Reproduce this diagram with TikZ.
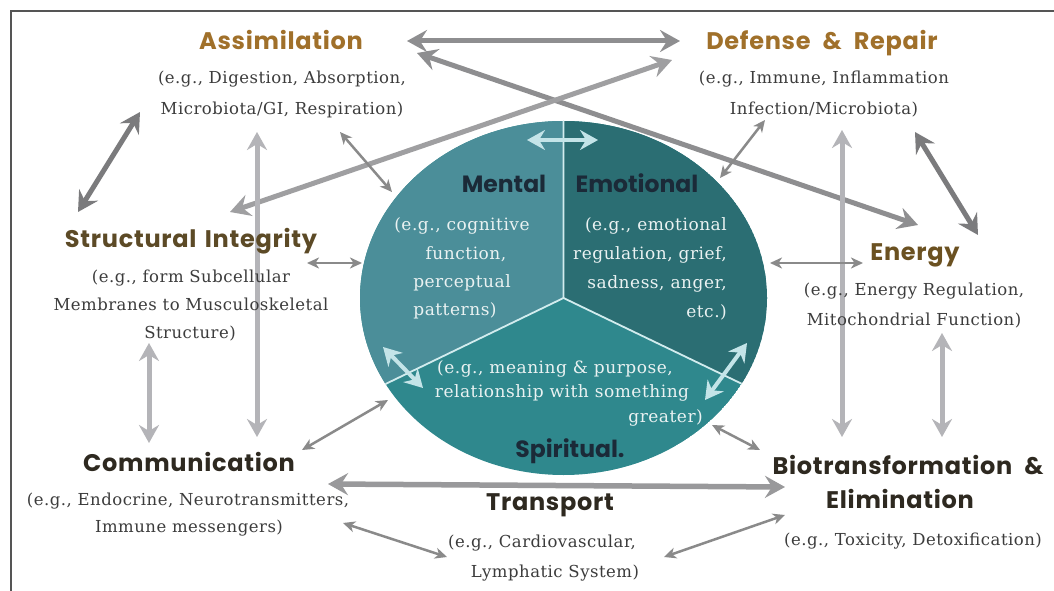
\documentclass[tikz,border=0pt]{standalone}
\usepackage{fontspec}
\usetikzlibrary{arrows.meta}
\newfontfamily\headfont{Poppins}[LetterSpace=3]
\newfontfamily\wheelfont{Poppins}
\newfontfamily\bodyfont{DejaVu Serif}[LetterSpace=3]
\definecolor{mentalc}{HTML}{4B8E99}
\definecolor{emotionc}{HTML}{2B6E73}
\definecolor{spiritc}{HTML}{2F888D}
\definecolor{dividerc}{HTML}{D2ECEE}
\definecolor{cyanarrow}{HTML}{C4E4E8}
\definecolor{goldhead}{HTML}{A0702A}
\definecolor{brownhead}{HTML}{5C4A26}
\definecolor{energyhead}{HTML}{6B5121}
\definecolor{darkhead}{HTML}{2E2920}
\definecolor{sectorhead}{HTML}{1B2A38}
\definecolor{bodytext}{HTML}{3C3C3C}
\definecolor{sectortext}{HTML}{EAF2F2}
\definecolor{midgray}{HTML}{8E8E90}
\definecolor{darkgray}{HTML}{7B7B7D}
\definecolor{lightgray}{HTML}{B4B4B8}
\definecolor{thingray}{HTML}{8A8A8A}
\definecolor{framec}{HTML}{555555}
\begin{document}
\begin{tikzpicture}[x=1pt,y=-1pt,
  head/.style={font=\headfont\bfseries\fontsize{24}{28}\selectfont, anchor=base, inner sep=0pt},
  sectorhd/.style={font=\wheelfont\bfseries\fontsize{23.5}{28}\selectfont, text=sectorhead, anchor=base, inner sep=0pt},
  sub/.style={font=\bodyfont\fontsize{16.5}{20}\selectfont, text=bodytext, anchor=base, inner sep=0pt},
  insub/.style={font=\bodyfont\fontsize{17}{20}\selectfont, text=sectortext, anchor=base, inner sep=0pt},
  bigtip/.tip={Stealth[length=20pt,width=22pt,inset=7pt]},
  midtip/.tip={Stealth[length=18pt,width=20pt,inset=6pt]},
  smalltip/.tip={Stealth[length=12pt,width=11pt,inset=3.5pt]},
  bigarrow/.style={line width=5pt, bigtip-bigtip},
  vertarrow/.style={line width=5pt, draw=lightgray, midtip-midtip},
  thinarrow/.style={line width=2.5pt, draw=thingray, smalltip-smalltip},
  innerarrow/.style={line width=4pt, draw=cyanarrow, midtip-midtip}]

\useasboundingbox (0,0) rectangle (1054,591);
\fill[white] (0,0) rectangle (1054,591);
% frame lines on the left and top
\draw[framec, line width=1.5pt] (11,591) -- (11,11) -- (1054,11);

% the wheel of mental, emotional and spiritual sectors
\coordinate (hub) at (563.5,298);
\begin{scope}
  \clip (hub) ellipse [x radius=203.5pt, y radius=177pt];
  \fill[spiritc] (hub) ellipse [x radius=203.5pt, y radius=177pt];
  \fill[mentalc] (hub) -- (563.5,100) -- (340,100) -- (340,406) -- cycle;
  \fill[emotionc] (hub) -- (563.5,100) -- (790,100) -- (790,407) -- cycle;
  \draw[dividerc, line width=1.8pt] (563.5,100) -- (hub) -- (340,406);
  \draw[dividerc, line width=1.8pt] (hub) -- (790,407);
\end{scope}

% arrow end points
\coordinate (assim-r) at (407,41);
\coordinate (def-l) at (680,41);
\coordinate (assim-r2) at (417,53);
\coordinate (energy-tl) at (918,225);
\coordinate (def-l2) at (672,60);
\coordinate (struct-tr) at (230,212);
\coordinate (assim-bl) at (140,112);
\coordinate (struct-tl) at (78,212);
\coordinate (def-br) at (915,132);
\coordinate (energy-tr) at (978,235);
\coordinate (assim-b) at (257,132);
\coordinate (comm-t2) at (257,437);
\coordinate (def-b) at (842,130);
\coordinate (bio-t1) at (842,437);
\coordinate (struct-b) at (149,343);
\coordinate (comm-t1) at (149,443);
\coordinate (energy-b) at (942,333);
\coordinate (bio-t2) at (942,437);
\coordinate (comm-r) at (328,484);
\coordinate (bio-l) at (785,487);
\coordinate (comm-br) at (343,523);
\coordinate (trans-l) at (447,557);
\coordinate (trans-r) at (664,557);
\coordinate (bio-bl) at (785,515);
\coordinate (comm-tr) at (302,450);
\coordinate (circ-sw) at (388,400);
\coordinate (circ-se) at (712,425);
\coordinate (bio-tl) at (760,450);
\coordinate (struct-r) at (307,263);
\coordinate (circ-w) at (362,263);
\coordinate (circ-e) at (770,263);
\coordinate (energy-l) at (863,263);
\coordinate (assim-br) at (340,132);
\coordinate (circ-nw) at (392,192);
\coordinate (def-bl) at (765,120);
\coordinate (circ-ne) at (720,178);
\coordinate (mental-top) at (527,140);
\coordinate (emotion-top) at (598,140);
\coordinate (mental-low) at (383,347);
\coordinate (spirit-left) at (423,388);
\coordinate (emotion-low) at (747,343);
\coordinate (spirit-right) at (705,400);

% connectors between the outer systems
\draw[bigarrow, draw=midgray] (assim-r) -- (def-l);
\draw[bigarrow, draw=midgray] (assim-r2) -- (energy-tl);
\draw[bigarrow, draw=midgray!85] (def-l2) -- (struct-tr);
\draw[bigarrow, draw=darkgray] (assim-bl) -- (struct-tl);
\draw[bigarrow, draw=darkgray] (def-br) -- (energy-tr);
\draw[vertarrow] (assim-b) -- (comm-t2);
\draw[vertarrow] (def-b) -- (bio-t1);
\draw[vertarrow] (struct-b) -- (comm-t1);
\draw[vertarrow] (energy-b) -- (bio-t2);
\draw[bigarrow, line width=5.5pt, draw=midgray!90] (comm-r) -- (bio-l);
\draw[thinarrow] (comm-br) -- (trans-l);
\draw[thinarrow] (trans-r) -- (bio-bl);

% connectors to the wheel
\draw[thinarrow] (comm-tr) -- (circ-sw);
\draw[thinarrow] (circ-se) -- (bio-tl);
\draw[thinarrow] (struct-r) -- (circ-w);
\draw[thinarrow] (circ-e) -- (energy-l);
\draw[thinarrow] (assim-br) -- (circ-nw);
\draw[thinarrow] (def-bl) -- (circ-ne);

% connectors inside the wheel
\draw[innerarrow] (mental-top) -- (emotion-top);
\draw[innerarrow] (mental-low) -- (spirit-left);
\draw[innerarrow] (emotion-low) -- (spirit-right);

% outer systems
\node[head, text=goldhead] (assim) at (281,50) {Assimilation};
\node[sub] (assim1) at (282,84) {(e.g., Digestion, Absorption,};
\node[sub] (assim2) at (282,114) {Microbiota/GI, Respiration)};

\node[head, text=goldhead] (defense) at (822,50) {Defense\hspace{0.5em}\&\hspace{0.5em}Repair};
\node[sub] (defense1) at (824,84) {(e.g., Immune, Inflammation};
\node[sub] (defense2) at (824,114) {Infection/Microbiota)};

\node[head, text=brownhead] (struct) at (191,247) {Structural\hspace{0.35em}Integrity};
\node[sub] (struct1) at (191,282) {(e.g., form Subcellular};
\node[sub] (struct2) at (191,310) {Membranes to Musculoskeletal};
\node[sub] (struct3) at (190,338) {Structure)};

\node[head, text=energyhead] (energy) at (915,260) {Energy};
\node[sub] (energy1) at (914,295) {(e.g., Energy Regulation,};
\node[sub] (energy2) at (914,325) {Mitochondrial Function)};

\node[head, text=darkhead] (comm) at (189,471) {Communication};
\node[sub] (comm1) at (188,505) {(e.g., Endocrine, Neurotransmitters,};
\node[sub] (comm2) at (189,532) {Immune messengers)};

\node[head, text=darkhead] (trans) at (550,510) {Transport};
\node[sub] (trans1) at (542,547) {(e.g., Cardiovascular,};
\node[sub] (trans2) at (555,577) {Lymphatic System)};

\node[head, text=darkhead] (bio) at (908,474) {Biotransformation\hspace{0.5em}\&};
\node[head, text=darkhead] (elim) at (900,508) {Elimination};
\node[sub] (bio1) at (913,545) {(e.g., Toxicity, Detoxification)};

% wheel labels
\node[sectorhd] (mental) at (504,192) {Mental};
\node[sectorhd] (emotional) at (637,192) {Emotional};
\node[sectorhd] (spiritual) at (570,457) {Spiritual.};

\node[insub] (mental1) at (462,230) {(e.g., cognitive};
\node[insub] (mental2) at (466,259) {function,};
\node[insub] (mental3) at (462,287) {perceptual};
\node[insub] (mental4) at (455,315) {patterns)};

\node[insub, anchor=base east] (emotion1) at (727,230) {(e.g., emotional};
\node[insub, anchor=base east] (emotion2) at (727,259) {regulation, grief,};
\node[insub, anchor=base east] (emotion3) at (727,288) {sadness, anger,};
\node[insub, anchor=base east] (emotion4) at (727,317) {etc.)};

\node[insub] (spirit1) at (555,373) {(e.g., meaning \& purpose,};
\node[insub] (spirit2) at (562,397) {relationship with something};
\node[insub, anchor=base east] (spirit3) at (703,422) {greater)};
\end{tikzpicture}
\end{document}
